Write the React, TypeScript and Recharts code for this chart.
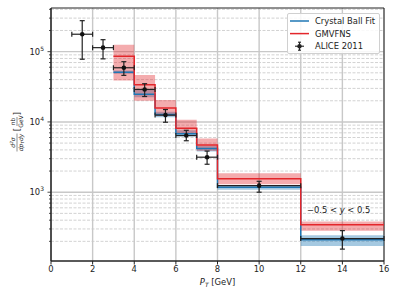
import {
  ComposedChart,
  Line,
  Area,
  Scatter,
  ErrorBar,
  XAxis,
  YAxis,
  CartesianGrid,
  ReferenceArea,
  ReferenceDot,
  Legend,
  Label,
} from 'recharts';

const FONT = '"DejaVu Sans", sans-serif';
const BLUE = '#1f77b4';
const RED = '#e3262b';
const INK = '#222';

// step curves: bin edges, one value per bin
const binEdges = [3, 4, 5, 6, 7, 8, 12, 16];
const crystalBall = [5.1e4, 2.48e4, 1.28e4, 6.8e3, 4.2e3, 1.18e3, 210];
const crystalBallLow = [4.85e4, 2.25e4, 1.17e4, 6.2e3, 3.8e3, 1.08e3, 172];
const crystalBallHigh = [5.4e4, 2.95e4, 1.4e4, 7.6e3, 4.6e3, 1.27e3, 245];
const gmvfns = [8.6e4, 3.37e4, 1.58e4, 8.1e3, 4.7e3, 1.55e3, 343];
const gmvfnsLow = [3.9e4, 2.0e4, 1.21e4, 6.8e3, 3.9e3, 1.3e3, 284];
const gmvfnsHigh = [1.25e5, 4.67e4, 2.06e4, 1.07e4, 5.8e3, 1.86e3, 382];

// ALICE 2011 points
const aliceX = [1.5, 2.5, 3.5, 4.5, 5.5, 6.5, 7.5, 10, 14];
const aliceXErr = [0.5, 0.5, 0.5, 0.5, 0.5, 0.5, 0.5, 2, 2];
const aliceY = [1.77e5, 1.14e5, 5.9e4, 2.9e4, 1.25e4, 6.4e3, 3.15e3, 1.24e3, 219];
const aliceYLow = [7.8e4, 7.9e4, 4.6e4, 2.3e4, 9.9e3, 5.4e3, 2.5e3, 1.0e3, 155];
const aliceYHigh = [2.76e5, 1.48e5, 7.2e4, 3.5e4, 1.5e4, 7.6e3, 3.85e3, 1.43e3, 284];

const xTicks = [0, 2, 4, 6, 8, 10, 12, 14, 16];
const Y_MIN = 105;
const Y_MAX = 4.18e5;
const yMajor = [1e3, 1e4, 1e5];
const minorMult = [2, 3, 4, 5, 6, 7, 8, 9];
const decades = [1e2, 1e3, 1e4, 1e5];
const yMinor = decades
  .flatMap((d) => minorMult.map((m) => m * d))
  .filter((v) => v > Y_MIN && v < Y_MAX);
const yAllTicks = [...yMinor, ...yMajor].sort((a, b) => a - b);

const legendItems = [
  { name: 'Crystal Ball Fit', kind: 'line', color: BLUE },
  { name: 'GMVFNS', kind: 'line', color: RED },
  { name: 'ALICE 2011', kind: 'point', color: INK },
];

const stepData = binEdges.map((x, i) => {
  const k = Math.min(i, crystalBall.length - 1);
  return {
    x,
    cb: crystalBall[k],
    cbBand: [crystalBallLow[k], crystalBallHigh[k]],
    gm: gmvfns[k],
    gmBand: [gmvfnsLow[k], gmvfnsHigh[k]],
  };
});

const aliceData = aliceX.map((x, i) => ({
  x,
  y: aliceY[i],
  xErr: aliceXErr[i],
  yErr: [aliceY[i] - aliceYLow[i], aliceYHigh[i] - aliceY[i]],
}));

const TICK_SIZE = 3.5;

function YTick(props: any) {
  const { x, y, payload } = props;
  const v = payload.value;
  const major = yMajor.includes(v);
  const ax = x + TICK_SIZE;
  return (
    <g>
      <line x1={ax - (major ? 3.5 : 2)} x2={ax} y1={y} y2={y} stroke={INK} strokeWidth={0.8} />
      {major && (
        <text x={ax - 7} y={y + 3} textAnchor="end" fontSize={8.4} fill={INK} fontFamily={FONT}>
          10
          <tspan dy={-4} fontSize={6}>
            {Math.round(Math.log10(v))}
          </tspan>
        </text>
      )}
    </g>
  );
}

function XLabel(props: any) {
  const vb = props.viewBox;
  const cx = vb.x + vb.width / 2;
  return (
    <text x={cx} y={vb.y + 24} textAnchor="middle" fontSize={8.4} fill={INK} fontFamily={FONT}>
      <tspan fontStyle="italic">P</tspan>
      <tspan dy={1.8} fontSize={6} fontStyle="italic">T</tspan>
      <tspan dy={-1.8}> [GeV]</tspan>
    </text>
  );
}

function YLabel(props: any) {
  const vb = props.viewBox;
  const cx = vb.x + 17;
  const cy = vb.y + vb.height / 2 - 4;
  return (
    <g transform={`translate(${cx},${cy}) rotate(-90)`} fill={INK} fontFamily={FONT}>
      <text x={-12} y={-1.6} fontSize={6} textAnchor="middle" fontStyle="italic">
        d<tspan dy={-2} fontSize={4.2}>2</tspan>
        <tspan dy={2}>σ</tspan>
      </text>
      <line x1={-21} x2={-3} y1={0} y2={0} stroke={INK} strokeWidth={0.5} />
      <text x={-12} y={5.6} fontSize={6} textAnchor="middle" fontStyle="italic">
        dp<tspan dy={1.4} fontSize={4.2}>T</tspan>
        <tspan dy={-1.4}>dy</tspan>
      </text>
      <text x={1} y={3} fontSize={8.4} textAnchor="middle">[</text>
      <text x={9} y={-1.6} fontSize={6} textAnchor="middle">nb</text>
      <line x1={4.5} x2={13.5} y1={0} y2={0} stroke={INK} strokeWidth={0.5} />
      <text x={9} y={5.6} fontSize={6} textAnchor="middle">GeV</text>
      <text x={17} y={3} fontSize={8.4} textAnchor="middle">]</text>
    </g>
  );
}

function RapidityNote(props: any) {
  const vb = props.viewBox;
  return (
    <text x={vb.x} y={vb.y + 3} textAnchor="middle" fontSize={8.4} fill={INK} fontFamily={FONT}>
      −0.5 &lt; <tspan fontStyle="italic">y</tspan> &lt; 0.5
    </text>
  );
}

function LegendBox() {
  return (
    <div
      style={{
        width: 93,
        height: 41,
        boxSizing: 'border-box',
        border: '1px solid #d0d0d0',
        borderRadius: 2,
        background: 'rgba(255,255,255,0.85)',
      }}
    >
      <svg width={91} height={39} style={{ display: 'block' }}>
        {legendItems.map((it, i) => {
          const y = 7 + i * 12.6;
          return (
            <g key={it.name}>
              {it.kind === 'line' ? (
                <line x1={2} x2={21} y1={y} y2={y} stroke={it.color} strokeWidth={1.5} />
              ) : (
                <g stroke={it.color} strokeWidth={1.1}>
                  <line x1={7} x2={16} y1={y} y2={y} />
                  <line x1={11.5} x2={11.5} y1={y - 4} y2={y + 4} />
                  <line x1={10} x2={13} y1={y - 4} y2={y - 4} />
                  <line x1={10} x2={13} y1={y + 4} y2={y + 4} />
                  <circle cx={11.5} cy={y} r={2.2} fill={it.color} stroke="none" />
                </g>
              )}
              <text x={27} y={y + 3} fontSize={8.4} fill={INK} fontFamily={FONT}>
                {it.name}
              </text>
            </g>
          );
        })}
      </svg>
    </div>
  );
}

export default function App() {
  return (
    <div style={{ position: 'absolute', left: 0, top: 0, width: 399, height: 299, background: '#fff' }}>
      <ComposedChart
        width={399}
        height={299}
        data={stepData}
        margin={{ top: 8, right: 15, bottom: 0, left: 0 }}
        style={{ fontFamily: FONT }}
      >
        <CartesianGrid
          horizontalValues={yMinor}
          vertical={false}
          stroke="#c6c6c6"
          strokeWidth={0.8}
          strokeDasharray="3 1.5"
        />
        <CartesianGrid horizontalValues={yMajor} verticalValues={xTicks} stroke="#c8c8c8" strokeWidth={1.4} />
        <XAxis
          type="number"
          dataKey="x"
          domain={[0, 16]}
          ticks={xTicks}
          interval={0}
          allowDataOverflow
          height={38}
          tickSize={TICK_SIZE}
          tickMargin={2}
          stroke={INK}
          tick={{ fontSize: 8.4, fill: INK, fontFamily: FONT }}
        >
          <Label content={XLabel} />
        </XAxis>
        <YAxis
          scale="log"
          domain={[Y_MIN, Y_MAX]}
          allowDataOverflow
          ticks={yAllTicks}
          interval={0}
          width={51}
          tickLine={false}
          tickSize={TICK_SIZE}
          tickMargin={0}
          stroke={INK}
          tick={YTick}
        >
          <Label content={YLabel} />
        </YAxis>
        <ReferenceArea
          x1={0}
          x2={16}
          y1={Y_MIN}
          y2={Y_MAX}
          fill="none"
          stroke={INK}
          strokeWidth={1}
          ifOverflow="visible"
        />
        <Area
          dataKey="cbBand"
          type="stepAfter"
          fill={BLUE}
          fillOpacity={0.4}
          stroke="none"
          isAnimationActive={false}
        />
        <Area
          dataKey="gmBand"
          type="stepAfter"
          fill={RED}
          fillOpacity={0.38}
          stroke="none"
          isAnimationActive={false}
        />
        <Line dataKey="cb" type="stepAfter" stroke={BLUE} strokeWidth={1.5} dot={false} isAnimationActive={false} />
        <Line dataKey="gm" type="stepAfter" stroke={RED} strokeWidth={1.5} dot={false} isAnimationActive={false} />
        <Scatter
          data={aliceData}
          dataKey="y"
          fill={INK}
          isAnimationActive={false}
          shape={(p: any) => <circle cx={p.cx} cy={p.cy} r={2.3} fill="#111" />}
        >
          <ErrorBar direction="x" dataKey="xErr" width={2.5} stroke={INK} strokeWidth={1.2} isAnimationActive={false} />
          <ErrorBar direction="y" dataKey="yErr" width={2.5} stroke={INK} strokeWidth={1.2} isAnimationActive={false} />
        </Scatter>
        <ReferenceDot x={13.82} y={560} r={0} fill="none" stroke="none" ifOverflow="visible">
          <Label content={RapidityNote} />
        </ReferenceDot>
        <Legend
          layout="vertical"
          align="center"
          verticalAlign="middle"
          wrapperStyle={{ position: 'absolute', left: 287, top: 13, width: 93, height: 41 }}
          content={LegendBox}
        />
      </ComposedChart>
    </div>
  );
}
